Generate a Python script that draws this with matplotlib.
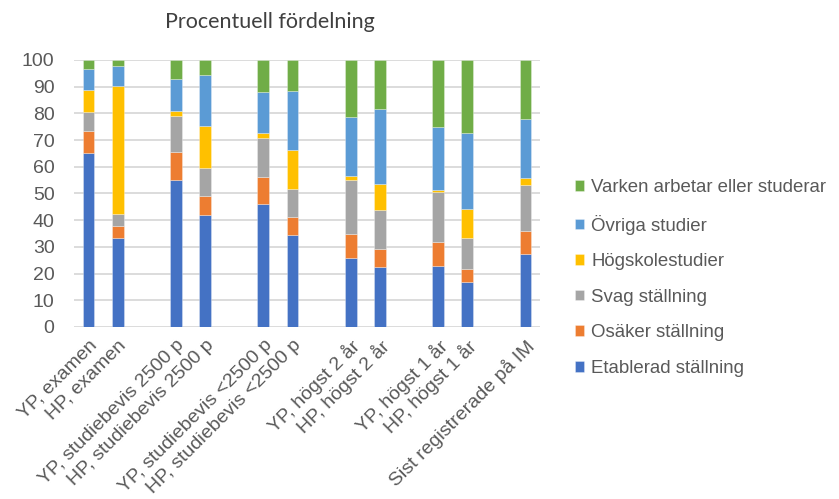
import matplotlib
matplotlib.use("Agg")
import matplotlib.pyplot as plt
import numpy as np

categories = ["YP, examen", "HP, examen", "",
              "YP, studiebevis 2500 p", "HP, studiebevis 2500 p", "",
              "YP, studiebevis <2500 p", "HP, studiebevis <2500 p", "",
              "YP, högst 2 år", "HP, högst 2 år", "",
              "YP, högst 1 år", "HP, högst 1 år", "",
              "Sist registrerade på IM"]

series_names = ["Etablerad ställning", "Osäker ställning", "Svag ställning",
                "Högskolestudier", "Övriga studier", "Varken arbetar eller studerar"]

etablerad = [65.0, 33.5, None, 54.9, 42.1, None, 46.0, 34.5, None, 25.7, 22.4, None, 22.7, 16.7, None, 27.2]
osaker    = [8.3, 4.3, None, 10.6, 7.0, None, 10.2, 6.6, None, 9.1, 6.8, None, 9.3, 5.1, None, 8.7]
svag      = [7.2, 4.7, None, 13.4, 10.3, None, 14.7, 10.4, None, 20.3, 14.6, None, 18.4, 11.4, None, 17.1]
hogskole  = [8.2, 47.9, None, 2.0, 16.0, None, 1.7, 14.8, None, 1.5, 9.6, None, 1.0, 11.1, None, 2.7]
ovriga    = [7.9, 7.2, None, 11.9, 18.9, None, 15.3, 22.2, None, 22.1, 28.1, None, 23.4, 28.3, None, 22.1]
varken    = [3.4, 2.4, None, 7.2, 5.7, None, 12.1, 11.5, None, 21.3, 18.5, None, 25.2, 27.4, None, 22.2]

colors = ["#4472C4", "#ED7D31", "#A5A5A5", "#FFC000", "#5B9BD5", "#70AD47"]

plt.rcParams['font.family'] = ['Liberation Sans', 'DejaVu Sans']
text_color = "#595959"

fig = plt.figure(figsize=(8.39, 4.99), dpi=100)
ax = fig.add_axes([0.0882, 0.3447, 0.5554, 0.5351])

x = np.arange(len(categories))
all_series = [etablerad, osaker, svag, hogskole, ovriga, varken]
bottom = np.zeros(len(categories))
handles = []
for name, vals, col in zip(series_names, all_series, colors):
    v = np.array([np.nan if a is None else a for a in vals], dtype=float)
    vv = np.nan_to_num(v)
    h = ax.bar(x, vv, bottom=bottom, width=0.4, color=col, label=name,
               edgecolor=(1, 1, 1, 0.35), linewidth=0.6, zorder=3)
    handles.append(h)
    bottom += vv

ax.set_xlim(-0.5, len(categories) - 0.5)
ax.set_ylim(0, 100)
ax.set_yticks(np.arange(0, 101, 10))
ax.yaxis.grid(True, color="#D9D9D9", linewidth=1.3, zorder=0)
ax.set_axisbelow(True)
for s in ax.spines.values():
    s.set_visible(False)
ax.tick_params(axis='both', length=0, colors=text_color, labelsize=14)
ax.tick_params(axis='y', pad=14)
ax.set_xticks(x)
ax.set_xticklabels(categories, rotation=45, ha='right', rotation_mode='anchor')
ax.tick_params(axis='x', pad=7)

fig.text(0.3215, 0.955, "Procentuell fördelning", ha='center', va='center',
         fontsize=15.5, color="#404040", family=['Lato', 'DejaVu Sans'])

leg = fig.legend(handles[::-1], series_names[::-1], loc='center left',
                 bbox_to_anchor=(0.685, 0.443), frameon=False, fontsize=13.4,
                 handlelength=0.5, handleheight=0.5, handletextpad=0.4,
                 labelspacing=1.0, borderaxespad=0.0, borderpad=0.0,
                 labelcolor=text_color)

fig.savefig("out.png", dpi=100)
